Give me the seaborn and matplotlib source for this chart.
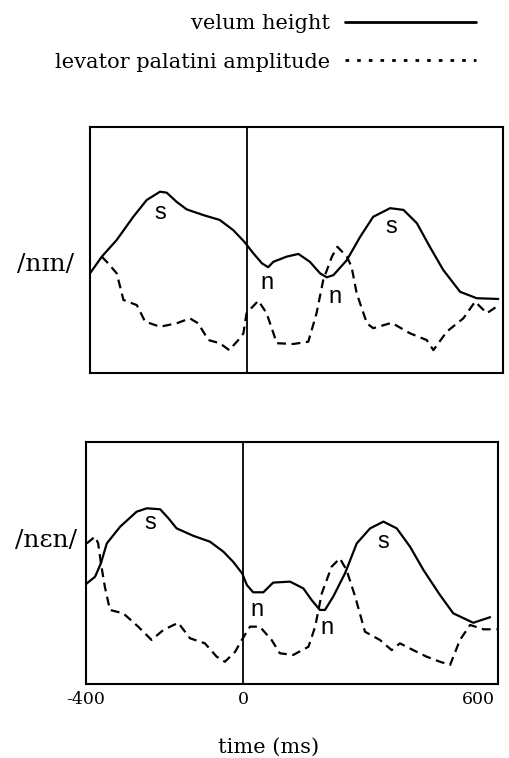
import matplotlib

matplotlib.use("Agg")

import matplotlib.pyplot as plt
import pandas as pd
import seaborn as sns
from matplotlib.lines import Line2D

# time in ms, amplitude in arbitrary units (0 = panel bottom, 100 = panel top)
nin_velum_ms = [-400, -370, -332, -290, -256, -222, -205, -180, -154, -112, -70, -36,
                -8, 15, 37, 53, 66, 100, 130, 159, 185, 202, 219, 253, 287, 320,
                363, 397, 431, 464, 498, 541, 583, 638]
nin_velum = [40.5, 47.3, 54.1, 63.5, 70.3, 73.7, 73.3, 69.6, 66.5, 64.2, 62.2, 58.1,
             53.4, 48.7, 44.6, 43.0, 45.2, 47.3, 48.4, 45.2, 40.5, 38.9, 39.8, 45.9,
             55.4, 63.5, 67.0, 66.3, 60.9, 51.3, 41.9, 33.0, 30.4, 30.1]

nin_levator_ms = [-370, -354, -332, -315, -281, -260, -222, -180, -146, -125, -99, -70,
                  -46, -23, -10, -2, 28, 49, 75, 117, 155, 176, 193, 215, 229, 253,
                  265, 278, 304, 320, 367, 414, 456, 473, 507, 549, 579, 609, 634]
nin_levator = [47.3, 44.6, 40.5, 29.7, 27.6, 20.9, 18.8, 20.2, 22.2, 20.2, 13.4, 12.1,
               9.3, 13.4, 16.1, 24.3, 29.4, 24.3, 12.1, 11.8, 12.7, 24.3, 37.8, 47.3,
               51.3, 47.3, 43.2, 32.4, 20.2, 18.2, 20.4, 16.1, 13.4, 9.3, 16.8, 22.2,
               29.0, 24.3, 27.0]

nen_velum_ms = [-400, -377, -362, -347, -313, -271, -245, -211, -190, -169, -126, -84,
                -50, -25, -2, 10, 26, 52, 77, 120, 154, 175, 196, 209, 230, 260, 290,
                324, 358, 392, 426, 460, 502, 536, 587, 630]
nen_velum = [41.3, 44.3, 49.9, 58.1, 65.0, 71.2, 72.6, 72.2, 68.5, 64.3, 61.2, 58.8,
             54.7, 50.5, 45.7, 40.9, 37.9, 37.9, 41.9, 42.3, 39.5, 34.7, 30.6, 30.6,
             36.1, 45.7, 58.1, 64.3, 67.1, 64.3, 56.7, 47.1, 36.8, 29.2, 25.3, 27.6]

nen_levator_ms = [-398, -377, -369, -362, -352, -339, -305, -267, -233, -203, -165, -135,
                  -97, -67, -46, -20, -3, 18, 43, 73, 94, 128, 167, 184, 201, 226, 247,
                  264, 286, 311, 349, 379, 400, 434, 468, 502, 528, 553, 579, 613, 647]
nen_levator = [58.1, 60.9, 58.1, 49.9, 40.2, 30.6, 29.2, 23.7, 18.2, 22.3, 25.3, 18.9,
               16.8, 11.3, 9.2, 13.3, 18.2, 23.7, 23.7, 18.2, 12.7, 12.0, 15.4, 23.7,
               37.5, 48.5, 51.9, 47.1, 36.1, 21.6, 18.2, 14.0, 16.8, 14.0, 11.3, 9.2,
               7.9, 18.2, 24.4, 22.6, 22.6]

# segment labels: text, time, level
nin_marks = [("s", -222, 65), ("n", 49, 36.5), ("n", 223, 31), ("s", 367, 59.5)]
nen_marks = [("s", -237, 66.4), ("n", 35, 30.6), ("n", 213, 23), ("s", 358, 58.8)]

x_ticks = [-400, 0, 600]
panel_labels = ["/nɪn/", "/nɛn/"]
series_names = ["velum height", "levator palatini amplitude"]

sns.set_style("white")
plt.rcParams["font.family"] = ["DejaVu Serif"]
plt.rcParams["text.color"] = "black"
plt.rcParams["axes.labelcolor"] = "black"
plt.rcParams["xtick.color"] = "black"

SERIF = ["DejaVu Serif"]
SANS = ["Liberation Sans", "DejaVu Sans"]


def draw_panel(ax, velum_ms, velum, levator_ms, levator, marks, label):
    df = pd.concat(
        [
            pd.DataFrame({"ms": velum_ms, "value": velum, "series": series_names[0]}),
            pd.DataFrame({"ms": levator_ms, "value": levator, "series": series_names[1]}),
        ],
        ignore_index=True,
    )
    sns.lineplot(
        data=df,
        x="ms",
        y="value",
        style="series",
        dashes={series_names[0]: "", series_names[1]: (4, 2.5)},
        color="black",
        linewidth=1.6,
        estimator=None,
        sort=False,
        legend=False,
        ax=ax,
    )
    ax.axvline(0, color="black", linewidth=1.3)
    for text, ms, level in marks:
        ax.text(ms, level, text, ha="center", va="center", fontsize=17,
                family=SANS, color="black")
    ax.set_xlim(-400, 650)
    ax.set_ylim(0, 100)
    ax.set_yticks([])
    ax.set_xlabel("")
    ax.set_ylabel(label, rotation=0, fontsize=18, family=SERIF, ha="center",
                  va="center", color="black")
    for spine in ax.spines.values():
        spine.set_visible(True)
        spine.set_color("black")
        spine.set_linewidth(1.5)


fig = plt.figure(figsize=(5.1, 7.58), dpi=100)
ax_top = fig.add_axes([90 / 510, 1 - 373 / 758, 413 / 510, 246 / 758])
ax_bot = fig.add_axes([86 / 510, 1 - 684 / 758, 412 / 510, 242 / 758])

draw_panel(ax_top, nin_velum_ms, nin_velum, nin_levator_ms, nin_levator, nin_marks, panel_labels[0])
draw_panel(ax_bot, nen_velum_ms, nen_velum, nen_levator_ms, nen_levator, nen_marks, panel_labels[1])

ax_top.set_xticks([])
ax_top.yaxis.set_label_coords(-0.107, 0.44)
ax_bot.yaxis.set_label_coords(-0.097, 0.595)

ax_bot.set_xticks(x_ticks)
ax_bot.set_xticklabels([str(t) for t in x_ticks], fontsize=12.5, family=SERIF, color="black")
ax_bot.tick_params(axis="x", length=0, pad=5)
ax_bot.set_xlabel("time (ms)", fontsize=15, family=SERIF, color="black")
ax_bot.xaxis.set_label_coords(0.442, -0.222)

handles = [
    Line2D([], [], color="black", linewidth=2.0),
    Line2D([], [], color="black", linewidth=2.0, dashes=(1.3, 2.9)),
]
fig.legend(
    handles,
    series_names,
    loc="upper right",
    bbox_to_anchor=(476 / 510, 1 - 14 / 758),
    frameon=False,
    markerfirst=False,
    handlelength=6.3,
    handletextpad=0.7,
    labelspacing=0.95,
    borderpad=0,
    borderaxespad=0,
    labelcolor="black",
    prop={"family": SERIF, "size": 15},
)

fig.savefig("out.png", dpi=100)
plt.close(fig)
